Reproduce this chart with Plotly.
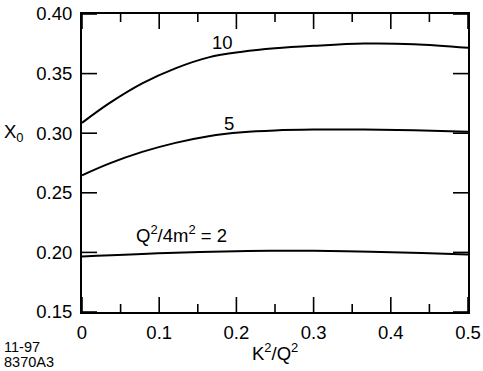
import plotly.graph_objects as go

# Data
x10 = [0.0, 0.035, 0.078, 0.121, 0.164, 0.2075, 0.25, 0.30, 0.365, 0.43, 0.5]
y10 = [0.3087, 0.325, 0.3418, 0.3544, 0.3636, 0.3683, 0.3712, 0.3733, 0.3752, 0.3747, 0.3717]

x5 = [0.0, 0.035, 0.078, 0.121, 0.164, 0.2075, 0.25, 0.30, 0.365, 0.43, 0.5]
y5 = [0.2647, 0.2745, 0.2843, 0.2919, 0.2975, 0.3008, 0.3023, 0.3030, 0.3031, 0.3025, 0.3013]

x2 = [0.0, 0.121, 0.244, 0.30, 0.374, 0.44, 0.5]
y2 = [0.1966, 0.1998, 0.2014, 0.2013, 0.2006, 0.1996, 0.1983]

x_ticks = [0, 0.1, 0.2, 0.3, 0.4, 0.5]
x_tick_labels = ["0", "0.1", "0.2", "0.3", "0.4", "0.5"]
x_minor_ticks = [0.05, 0.15, 0.25, 0.35, 0.45]
y_ticks = [0.15, 0.20, 0.25, 0.30, 0.35, 0.40]
y_tick_labels = ["0.15", "0.20", "0.25", "0.30", "0.35", "0.40"]

X_RANGE = [0, 0.5]
Y_RANGE = [0.15, 0.40]

FONT = "Liberation Sans, Arial, Helvetica, sans-serif"

# target plot box in screen pixels
L, R, T, B = 81.5, 467.7, 14.0, 311.7
W, H = 483, 371
MAJOR, MINOR = 15, 8  # tick lengths in px

# data units per pixel (for tick lengths)
XU = (X_RANGE[1] - X_RANGE[0]) / (R - L)
YU = (Y_RANGE[1] - Y_RANGE[0]) / (B - T)


def px(xabs):
    return (xabs - L) / (R - L)


def py(yabs):
    return (B - yabs) / (B - T)


fig = go.Figure()
for xs, ys in [(x10, y10), (x5, y5), (x2, y2)]:
    fig.add_trace(go.Scatter(x=xs, y=ys, mode="lines",
                             line=dict(color="black", width=2, shape="spline", smoothing=1.0),
                             showlegend=False, hoverinfo="skip"))

# inward tick marks on all four sides, built as one line trace with gaps
tx, ty = [], []
for yedge, sgn in [(Y_RANGE[0], 1), (Y_RANGE[1], -1)]:
    for vals, ln in [(x_ticks, MAJOR), (x_minor_ticks, MINOR)]:
        for v in vals:
            tx += [v, v, None]
            ty += [yedge, yedge + sgn * ln * YU, None]
for xedge, sgn in [(X_RANGE[0], 1), (X_RANGE[1], -1)]:
    for v in y_ticks:
        tx += [xedge, xedge + sgn * MAJOR * XU, None]
        ty += [v, v, None]
fig.add_trace(go.Scatter(x=tx, y=ty, mode="lines", connectgaps=False,
                         line=dict(color="black", width=1.6),
                         showlegend=False, hoverinfo="skip"))

tickfont = dict(family=FONT, size=18.5, color="black")
axis_common = dict(showline=True, linecolor="black", linewidth=2, mirror=True,
                   ticks="", showgrid=False, zeroline=False, automargin=False,
                   ticklabeloverflow="allow", tickfont=tickfont)

fig.update_xaxes(range=X_RANGE, tickvals=x_ticks, ticktext=x_tick_labels,
                 ticklabelstandoff=3, **axis_common)
fig.update_yaxes(range=Y_RANGE, tickvals=y_ticks, ticktext=y_tick_labels,
                 ticklabelstandoff=4, **axis_common)

ann_font = dict(family=FONT, size=18.5, color="black")
fig.add_annotation(x=0.1815, y=0.3759, text="10", showarrow=False, font=ann_font,
                   xanchor="center", yanchor="middle")
fig.add_annotation(x=0.1900, y=0.3082, text="5", showarrow=False, font=ann_font,
                   xanchor="center", yanchor="middle")
fig.add_annotation(x=px(180.7), y=py(234), xref="paper", yref="paper",
                   xanchor="center", yanchor="middle",
                   text="Q<sup>2</sup>/4m<sup>2</sup> = 2",
                   showarrow=False, font=ann_font)

# Axis titles and figure code as annotations
fig.add_annotation(xref="paper", yref="paper", x=px(13), y=py(133),
                   xanchor="center", yanchor="middle",
                   text="X<sub>0</sub>", showarrow=False, font=ann_font)
fig.add_annotation(xref="paper", yref="paper", x=px(274.6), y=py(352),
                   xanchor="center", yanchor="middle",
                   text="K<sup>2</sup>/Q<sup>2</sup>", showarrow=False, font=ann_font)
small = dict(family=FONT, size=14.5, color="black")
fig.add_annotation(xref="paper", yref="paper", x=px(1), y=py(346.7), xanchor="left",
                   yanchor="middle", text="11-97", showarrow=False, font=small)
fig.add_annotation(xref="paper", yref="paper", x=px(1), y=py(362), xanchor="left",
                   yanchor="middle", text="8370A3", showarrow=False, font=small)

fig.update_layout(width=W, height=H,
                  margin=dict(l=L, r=W - R, t=T, b=H - B, pad=0),
                  paper_bgcolor="white", plot_bgcolor="white")

fig.write_html("out.html", config={"displayModeBar": False},
               post_script="document.body.style.margin='0';document.body.style.overflow='hidden';")
